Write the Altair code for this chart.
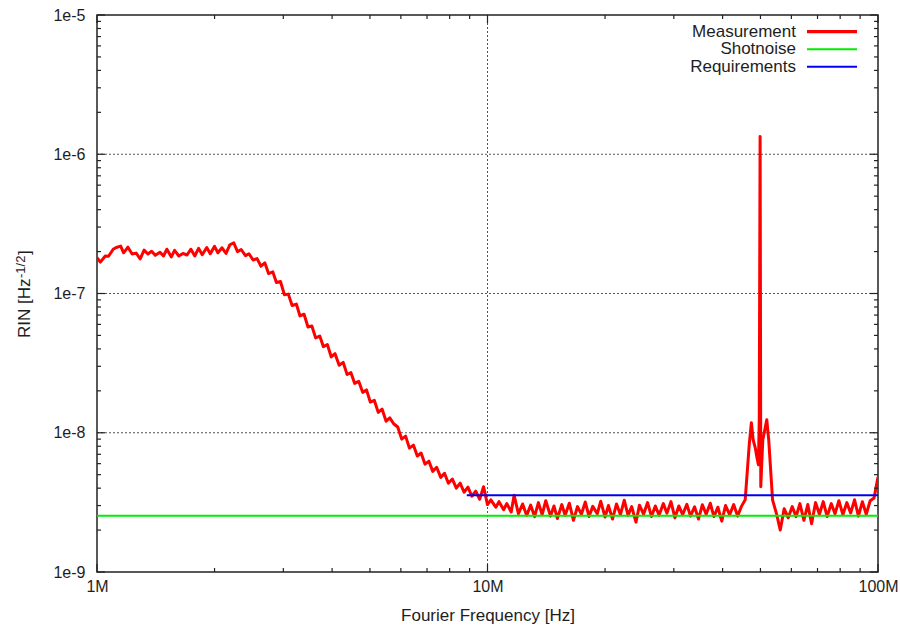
import altair as alt
import pandas as pd

FONT = "Liberation Sans"
TXT = "#1e1e1e"
W, H = 781, 557

# ---------------- data (frequency in MHz, RIN in units of 1e-9 /sqrt(Hz)) ----------------
# section A: low-frequency plateau
a_freq = [1.00, 1.02, 1.05, 1.07, 1.10, 1.12, 1.15, 1.17, 1.20, 1.23,
          1.26, 1.29, 1.32, 1.35, 1.38, 1.41, 1.45, 1.48, 1.51, 1.55,
          1.58, 1.62, 1.66, 1.70, 1.74, 1.78, 1.82, 1.86, 1.91, 1.95,
          2.00, 2.04, 2.09, 2.14, 2.19, 2.24, 2.29, 2.34, 2.40, 2.45,
          2.51]
a_rin = [181, 168, 186, 185, 208, 214, 219, 196, 215, 192,
         195, 177, 205, 192, 201, 188, 198, 186, 208, 183,
         204, 186, 194, 189, 208, 186, 211, 190, 214, 193,
         218, 196, 213, 194, 224, 231, 200, 207, 187, 193,
         174]
# section B: roll-off
b_freq = [2.57, 2.63, 2.69, 2.75, 2.82, 2.88, 2.95, 3.02, 3.09,
          3.16, 3.24, 3.31, 3.39, 3.47, 3.55, 3.63, 3.72, 3.80, 3.89,
          3.98, 4.07, 4.17, 4.27, 4.37, 4.47, 4.57, 4.68, 4.79, 4.90,
          5.01, 5.13, 5.25, 5.37, 5.50, 5.62, 5.75, 5.89, 6.03, 6.17,
          6.31, 6.46, 6.61, 6.76, 6.92, 7.08, 7.24, 7.41, 7.59, 7.76,
          7.94, 8.13, 8.32, 8.51, 8.71, 8.91, 9.12, 9.33, 9.55, 9.77]
b_rin = [178, 157, 166, 139, 143, 120, 122, 98, 99,
         82, 84, 69, 71, 57.5, 58.5, 48.0, 49.5, 41.5, 43.0,
         35.0, 37.0, 30.5, 32.0, 26.2, 27.0, 22.6, 23.4, 19.5, 20.3,
         16.6, 17.1, 14.0, 14.8, 12.1, 12.8, 11.6, 11.0, 9.0, 9.45,
         7.75, 8.15, 6.80, 7.15, 5.95, 6.25, 5.28, 5.65, 4.78, 5.12,
         4.34, 4.65, 4.00, 4.35, 3.74, 4.07, 3.50, 3.81, 3.33, 4.10]
# section C: high-frequency floor
c_freq = [10.0, 10.2, 10.5, 10.7, 11.0, 11.2, 11.5, 11.7, 12.0, 12.3,
          12.6, 12.9, 13.2, 13.5, 13.8, 14.1, 14.5, 14.8, 15.1, 15.5,
          15.8, 16.2, 16.6, 17.0, 17.4, 17.8, 18.2, 18.6, 19.1, 19.5,
          20.0, 20.4, 20.9, 21.4, 21.9, 22.4, 22.9, 23.4, 24.0, 24.5,
          25.1, 25.7, 26.3, 26.9, 27.5, 28.2, 28.8, 29.5, 30.2, 30.9,
          31.6, 32.4, 33.1, 33.9, 34.7, 35.5, 36.3, 37.2, 38.0, 38.9,
          39.8, 40.7, 41.7, 42.7, 43.7, 44.7]
c_rin = [3.05, 3.30, 2.92, 3.20, 2.80, 3.10, 2.70, 3.55, 2.62, 3.08,
         2.55, 3.02, 2.50, 3.15, 2.58, 3.25, 2.52, 2.98, 2.42, 3.05,
         2.55, 3.12, 2.35, 2.95, 2.60, 3.18, 2.50, 2.96, 2.62, 3.22,
         2.48, 3.00, 2.40, 3.08, 2.58, 3.28, 2.55, 2.95, 2.28, 3.02,
         2.60, 3.15, 2.50, 2.98, 2.56, 3.10, 2.64, 3.20, 2.45, 2.98,
         2.58, 3.06, 2.52, 2.94, 2.40, 3.04, 2.60, 3.12, 2.50, 2.92,
         2.32, 3.00, 2.58, 3.05, 2.52, 2.96]
# section D: 50 MHz peak
d_freq = [45.7, 46.8, 47.4, 47.9, 48.5, 49.0, 49.4, 49.65, 49.8, 49.9,
          50.0, 50.1, 50.3, 50.7, 51.3, 51.9, 52.5, 53.1, 53.7, 55.0]
d_rin = [3.3, 8.2, 11.8, 8.9, 7.8, 6.6, 5.9, 12.4, 207, 1340,
         90, 4.1, 5.4, 8.9, 10.5, 12.4, 8.9, 5.4, 3.3, 2.6]
# section E: above the peak
e_freq = [56.2, 57.5, 58.9, 60.3, 61.7, 63.1, 64.6, 66.1, 67.6, 69.2,
          70.8, 72.4, 74.1, 75.9, 77.6, 79.4, 81.3, 83.2, 85.1, 87.1,
          89.1, 91.2, 93.3, 95.5, 97.7, 100.0]
e_rin = [2.0, 2.85, 2.45, 2.95, 2.50, 3.10, 2.35, 3.05, 2.22, 3.15,
         2.60, 3.20, 2.50, 3.10, 2.62, 3.25, 2.58, 3.15, 2.65, 3.30,
         2.52, 3.20, 2.60, 3.25, 3.40, 4.8]

shot_freq = [1e6, 1e8]
shot_rin = [2.53e-9, 2.53e-9]
req_freq = [8.85e6, 1e8]
req_rin = [3.56e-9, 3.56e-9]

series_names = ["Measurement", "Shotnoise", "Requirements"]
series_colors = ["#ff0000", "#00ee00", "#0000f0"]

x_major = [1e6, 1e7, 1e8]
x_labels = ["1M", "10M", "100M"]
y_major = [1e-9, 1e-8, 1e-7, 1e-6, 1e-5]
minor_mantissa = [2, 3, 4, 5, 6, 7, 8, 9]
x_minor = [m * 10.0 ** e for e in [6, 7] for m in minor_mantissa]
y_minor = [m * 10.0 ** e for e in [-9, -8, -7, -6] for m in minor_mantissa]
x_grid = [1e7]
y_grid = [1e-8, 1e-7, 1e-6]

# ---------------- frames ----------------
meas_f = a_freq + b_freq + c_freq + d_freq + e_freq
meas_r = a_rin + b_rin + c_rin + d_rin + e_rin
meas = pd.DataFrame({"f": [v * 1e6 for v in meas_f], "rin": [v * 1e-9 for v in meas_r],
                     "i": list(range(len(meas_f)))})
shot = pd.DataFrame({"f": shot_freq, "rin": shot_rin})
req = pd.DataFrame({"f": req_freq, "rin": req_rin})

xs = alt.Scale(type="log", domain=[1e6, 1e8], nice=False)
ys = alt.Scale(type="log", domain=[1e-9, 1e-5], nice=False)

x_label_expr = " : ".join(
    f"datum.value < {v * 3.0} ? '{lab}'" for v, lab in zip(x_major[:-1], x_labels[:-1])
) + f" : '{x_labels[-1]}'"

X_AXIS = alt.Axis(values=x_major, labelExpr=x_label_expr, ticks=False, domain=False, grid=False,
                  labelFont=FONT, labelFontSize=16, labelColor=TXT, labelPadding=6,
                  labelFlush=False, labelOverlap=False,
                  title="Fourier Frequency [Hz]", titleFont=FONT, titleFontSize=17,
                  titleFontWeight="normal", titleColor=TXT, titlePadding=13)
Y_AXIS = alt.Axis(values=y_major, labelExpr="'1e' + round(log(datum.value) / LN10)",
                  ticks=False, domain=False, grid=False, labelFont=FONT, labelFontSize=16,
                  labelColor=TXT, labelPadding=12, labelFlush=False, labelOverlap=False,
                  title="")


def X():
    return alt.X("f:Q", scale=xs, axis=X_AXIS)


def Y():
    return alt.Y("rin:Q", scale=ys, axis=Y_AXIS)


# grid
grid_h = alt.Chart(pd.DataFrame({"rin": y_grid})).mark_rule(
    color="#555555", strokeWidth=1, strokeDash=[2, 2]
).encode(y=Y(), x=alt.value(0), x2=alt.value(W))
grid_v = alt.Chart(pd.DataFrame({"f": x_grid})).mark_rule(
    color="#555555", strokeWidth=1, strokeDash=[2, 2]
).encode(x=X(), y=alt.value(0), y2=alt.value(H))

# measurement and reference lines
meas_line = alt.Chart(meas).mark_line(
    color=series_colors[0], strokeWidth=3, strokeJoin="round", clip=True
).encode(x=X(), y=Y(), order="i:Q")
shot_line = alt.Chart(shot).mark_line(color=series_colors[1], strokeWidth=2).encode(x=X(), y=Y())
req_line = alt.Chart(req).mark_line(color=series_colors[2], strokeWidth=2).encode(x=X(), y=Y())

# inner ticks on all four sides
TICK = "#222222"


def yticks(vals, length, right=False):
    x0 = W if right else 0
    x1 = W - length if right else length
    return alt.Chart(pd.DataFrame({"rin": vals})).mark_rule(color=TICK, strokeWidth=1.2).encode(
        y=Y(), x=alt.value(x0), x2=alt.value(x1))


def xticks(vals, length, top=False):
    y0 = 0 if top else H
    y1 = length if top else H - length
    return alt.Chart(pd.DataFrame({"f": vals})).mark_rule(color=TICK, strokeWidth=1.2).encode(
        x=X(), y=alt.value(y0), y2=alt.value(y1))


tick_layers = [
    yticks(y_major, 8), yticks(y_minor, 4), yticks(y_major, 8, True), yticks(y_minor, 4, True),
    xticks(x_major, 8), xticks(x_minor, 4), xticks(x_major, 8, True), xticks(x_minor, 4, True),
]

# legend (top right, labels left of the line samples)
leg_rows = [16.7, 34.3, 51.7]
leg_widths = [3.2, 2, 2]
legend_layers = []
for name, col, yy, sw in zip(series_names, series_colors, leg_rows, leg_widths):
    d = pd.DataFrame({"name": [name]})
    legend_layers.append(alt.Chart(d).mark_text(
        font=FONT, fontSize=17, color=TXT, align="right", baseline="middle"
    ).encode(text="name:N", x=alt.value(699), y=alt.value(yy)))
    legend_layers.append(alt.Chart(d).mark_rule(color=col, strokeWidth=sw).encode(
        x=alt.value(710), x2=alt.value(760), y=alt.value(yy)))

# y axis title with superscript
ytitle_parts = ["RIN [Hz", "-1/2", "]"]
yt1 = alt.Chart(pd.DataFrame({"t": [ytitle_parts[0]]})).mark_text(
    font=FONT, fontSize=17, color=TXT, angle=270, align="left", baseline="alphabetic"
).encode(text="t:N", x=alt.value(-67), y=alt.value(323))
yt2 = alt.Chart(pd.DataFrame({"t": [ytitle_parts[1]]})).mark_text(
    font=FONT, fontSize=13, color=TXT, angle=270, align="left", baseline="alphabetic"
).encode(text="t:N", x=alt.value(-72), y=alt.value(263))
yt3 = alt.Chart(pd.DataFrame({"t": [ytitle_parts[2]]})).mark_text(
    font=FONT, fontSize=17, color=TXT, angle=270, align="left", baseline="alphabetic"
).encode(text="t:N", x=alt.value(-67), y=alt.value(240))

chart = alt.layer(
    grid_h, grid_v, meas_line, shot_line, req_line, *tick_layers, *legend_layers, yt1, yt2, yt3
).properties(
    width=W, height=H,
    autosize=alt.AutoSizeParams(type="none"),
    padding={"left": 97, "top": 15, "right": 22, "bottom": 58},
    background="white",
).configure_view(stroke="#222222", strokeWidth=1.5)

chart.save("out.html", embed_options={"renderer": "svg", "actions": False})
